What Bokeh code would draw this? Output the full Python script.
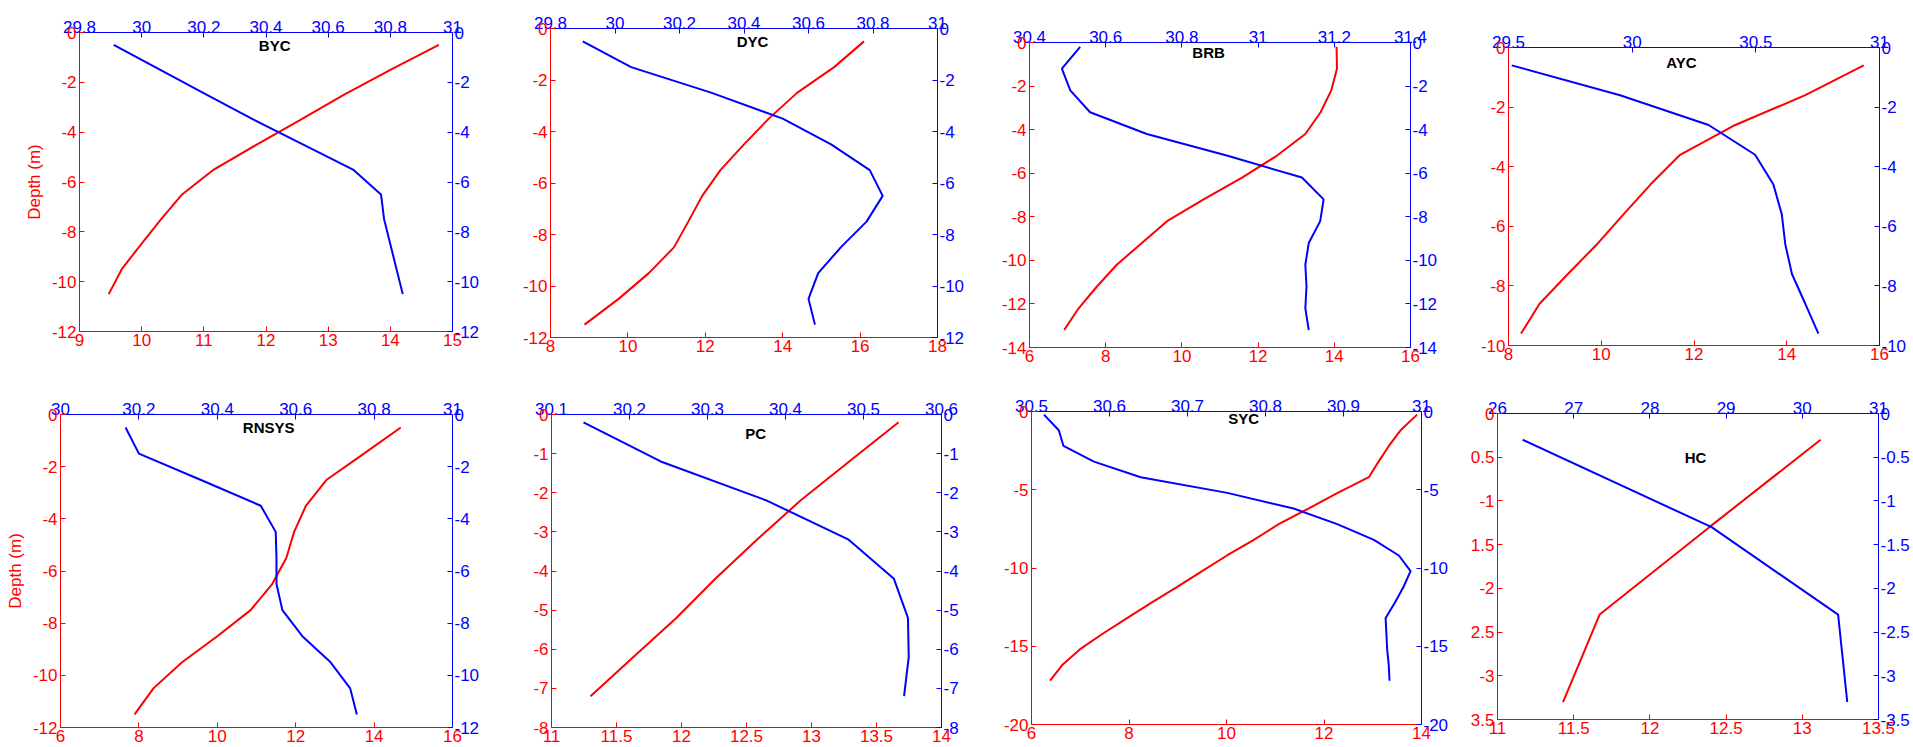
import numpy as np
from bokeh.plotting import figure
from bokeh.models import Range1d, LinearAxis, FixedTicker, CustomJSTickFormatter, Label
from bokeh.layouts import column, row
from bokeh.embed import file_html
from bokeh.resources import INLINE

# ---------------- data ----------------
names = ["BYC", "DYC", "BRB", "AYC", "RNSYS", "PC", "SYC", "HC"]

byc_depth = [-0.5, -1.5, -2.5, -3.5, -4.5, -5.5, -6.5, -7.5, -8.5, -9.5, -10.5]
byc_temp = [14.78, 14.0, 13.25, 12.56, 11.85, 11.16, 10.65, 10.31, 9.99, 9.68, 9.47]
byc_sal = [29.91, 30.06, 30.21, 30.36, 30.52, 30.68, 30.77, 30.78, 30.80, 30.82, 30.84]

dyc_depth = [-0.5, -1.5, -2.5, -3.5, -4.5, -5.5, -6.5, -7.5, -8.5, -9.5, -10.5, -11.5]
dyc_temp = [16.10, 15.33, 14.37, 13.64, 13.00, 12.39, 11.92, 11.56, 11.19, 10.54, 9.76, 8.88]
dyc_sal = [29.90, 30.05, 30.30, 30.52, 30.67, 30.79, 30.83, 30.78, 30.70, 30.63, 30.60, 30.62]

brb_depth = [-0.2, -1.2, -2.2, -3.2, -4.2, -5.2, -6.2, -7.2, -8.2, -9.2, -10.2, -11.2, -12.2, -13.2]
brb_temp = [14.06, 14.07, 13.92, 13.64, 13.24, 12.49, 11.58, 10.57, 9.61, 8.95, 8.29, 7.77, 7.29, 6.91]
brb_sal = [30.533, 30.485, 30.507, 30.559, 30.708, 30.92, 31.115, 31.172, 31.163, 31.133, 31.124, 31.127, 31.124, 31.133]

ayc_depth = [-0.6, -1.6, -2.6, -3.6, -4.6, -5.6, -6.6, -7.6, -8.6, -9.6]
ayc_temp = [15.66, 14.40, 12.89, 11.70, 11.06, 10.48, 9.91, 9.28, 8.67, 8.27]
ayc_sal = [29.513, 29.951, 30.309, 30.497, 30.571, 30.605, 30.619, 30.646, 30.70, 30.753]

rnsys_depth = [-0.5, -1.5, -2.5, -3.5, -4.5, -5.5, -6.5, -7.5, -8.5, -9.5, -10.5, -11.5]
rnsys_temp = [14.68, 13.74, 12.79, 12.26, 11.96, 11.76, 11.40, 10.85, 10.0, 9.10, 8.37, 7.89]
rnsys_sal = [30.166, 30.200, 30.357, 30.511, 30.549, 30.551, 30.551, 30.566, 30.617, 30.689, 30.739, 30.756]

pc_depth = [-0.2, -1.2, -2.2, -3.2, -4.2, -5.2, -6.2, -7.2]
pc_temp = [13.67, 13.29, 12.915, 12.58, 12.26, 11.96, 11.63, 11.30]
pc_sal = [30.141, 30.240, 30.376, 30.481, 30.539, 30.557, 30.558, 30.552]

syc_depth = [-0.2, -1.2, -2.2, -3.2, -4.2, -5.2, -6.2, -7.2, -8.2, -9.2, -10.2, -11.2,
             -12.2, -13.2, -14.2, -15.2, -16.2, -17.2]
syc_temp = [13.91, 13.57, 13.33, 13.12, 12.92, 12.28, 11.68, 11.07, 10.56, 10.01, 9.50, 8.99,
            8.47, 7.96, 7.46, 6.99, 6.63, 6.38]
syc_sal = [30.516, 30.535, 30.541, 30.580, 30.640, 30.751, 30.836, 30.892, 30.939, 30.971, 30.986,
           30.977, 30.966, 30.954, 30.955, 30.956, 30.958, 30.959]

hc_depth = [-0.3, -1.3, -2.3, -3.3]
hc_temp = [13.12, 12.39, 11.67, 11.43]
hc_sal = [26.33, 28.81, 30.47, 30.59]

depths = [byc_depth, dyc_depth, brb_depth, ayc_depth, rnsys_depth, pc_depth, syc_depth, hc_depth]
temps = [byc_temp, dyc_temp, brb_temp, ayc_temp, rnsys_temp, pc_temp, syc_temp, hc_temp]
sals = [byc_sal, dyc_sal, brb_sal, ayc_sal, rnsys_sal, pc_sal, syc_sal, hc_sal]

# axis ranges and tick steps
temp_ranges = [(9, 15), (8, 18), (6, 16), (8, 16), (6, 16), (11, 14), (6, 14), (11, 13.5)]
sal_ranges = [(29.8, 31), (29.8, 31), (30.4, 31.4), (29.5, 31), (30, 31), (30.1, 30.6), (30.5, 31), (26, 31)]
depth_ranges = [(-12, 0), (-12, 0), (-14, 0), (-10, 0), (-12, 0), (-8, 0), (-20, 0), (-3.5, 0)]
temp_steps = [1, 2, 2, 2, 2, 0.5, 2, 0.5]
sal_steps = [0.2, 0.2, 0.2, 0.5, 0.2, 0.1, 0.1, 1]
depth_steps = [2, 2, 2, 2, 2, 1, 5, 0.5]

# panel title anchor (bottom-axis / depth units)
title_x = [12.14, 13.22, 10.70, 11.73, 11.31, 12.57, 10.35, 12.30]
title_y = [-0.52, -0.50, -0.46, -0.50, -0.50, -0.49, -0.45, -0.50]

# ---------------- layout (pixel geometry of the page) ----------------
row_edges = [(0, 370), (370, 746)]
cells = [(0, 484), (484, 975), (975, 1455), (1455, 1912),
         (0, 490), (490, 985), (985, 1458), (1458, 1912)]
frames = [(79, 32, 452, 331), (550, 28, 937, 337), (1029, 42, 1410, 347), (1508, 47, 1879, 345),
          (60, 414, 452, 727), (551, 414, 941, 727), (1031, 411, 1421, 724), (1497, 413, 1879, 719)]

RED = "#ff0000"
BLUE = "#0000ff"
FONT = "Liberation Sans"
TICK_FS = "17px"


def ticks(lo, hi, step):
    n = int(round((hi - lo) / step))
    return [round(lo + i * step, 6) for i in range(n + 1)]


plain_js = "var v = Math.round(tick*10000)/10000; return v.toString();"
nominus_half_js = ("var v = Math.round(tick*10000)/10000; var s = v.toString();"
                   " if (Math.abs(v - Math.round(v)) > 1e-6) { s = s.replace('-', ''); } return s;")


def style_axis(ax, color, standoff):
    ax.axis_line_color = color
    ax.axis_line_width = 1
    ax.major_tick_line_color = color
    ax.major_tick_in = 5
    ax.major_tick_out = 0
    ax.minor_tick_line_color = None
    ax.major_label_text_color = color
    ax.major_label_text_font = FONT
    ax.major_label_text_font_size = TICK_FS
    ax.major_label_standoff = standoff


figs = []
for i in range(8):
    r = 0 if i < 4 else 1
    ry0, ry1 = row_edges[r]
    cx0, cx1 = cells[i]
    fl, ft, fr, fb = frames[i]
    width = cx1 - cx0
    height = ry1 - ry0
    bl = fl - cx0
    br = cx1 - fr
    bt = ft - ry0
    bb = ry1 - fb

    t0, t1 = temp_ranges[i]
    s0, s1 = sal_ranges[i]
    d0, d1 = depth_ranges[i]

    p = figure(width=width, height=height, output_backend="svg", toolbar_location=None,
               title=None,
               x_range=Range1d(t0, t1), y_range=Range1d(d0, d1),
               x_axis_location="below", y_axis_location="left",
               min_border_left=bl, min_border_right=br, min_border_top=bt, min_border_bottom=bb)
    p.extra_x_ranges = {"sal": Range1d(s0, s1)}
    p.extra_y_ranges = {"dep2": Range1d(d0, d1)}
    p.grid.visible = False
    p.outline_line_color = None
    p.background_fill_color = "white"
    p.border_fill_color = "white"

    xb = p.xaxis[0]
    yl = p.yaxis[0]
    style_axis(xb, RED, 2)
    style_axis(yl, RED, 3)
    xb.ticker = FixedTicker(ticks=ticks(t0, t1, temp_steps[i]))
    yl.ticker = FixedTicker(ticks=ticks(d0, d1, depth_steps[i]))
    xb.formatter = CustomJSTickFormatter(code=plain_js)
    yl.formatter = CustomJSTickFormatter(code=nominus_half_js if names[i] == "HC" else plain_js)

    xt = LinearAxis(x_range_name="sal")
    style_axis(xt, BLUE, 0)
    xt.ticker = FixedTicker(ticks=ticks(s0, s1, sal_steps[i]))
    xt.formatter = CustomJSTickFormatter(code=plain_js)
    p.add_layout(xt, "above")

    yr = LinearAxis(y_range_name="dep2")
    style_axis(yr, BLUE, 2)
    yr.ticker = FixedTicker(ticks=ticks(d0, d1, depth_steps[i]))
    yr.formatter = CustomJSTickFormatter(code=plain_js)
    p.add_layout(yr, "right")

    if i in (0, 4):
        yl.axis_label = "Depth (m)"
        yl.axis_label_text_color = RED
        yl.axis_label_text_font = FONT
        yl.axis_label_text_font_size = TICK_FS
        yl.axis_label_text_font_style = "normal"
        yl.axis_label_standoff = 5

    p.line(temps[i], depths[i], line_color=RED, line_width=2)
    p.line(sals[i], depths[i], line_color=BLUE, line_width=2,
           x_range_name="sal", y_range_name="dep2")

    p.add_layout(Label(x=title_x[i], y=title_y[i], text=names[i], text_align="center",
                       text_baseline="middle", text_font=FONT, text_font_size="15px",
                       text_font_style="bold", text_color="black"))
    figs.append(p)

# wrap each figure in its own box so that frames are not aligned across the row
boxed = [column(f, spacing=0) for f in figs]
layout = column(row(*boxed[:4], spacing=0), row(*boxed[4:], spacing=0), spacing=0)
open("out.html", "w").write(file_html(layout, INLINE))
